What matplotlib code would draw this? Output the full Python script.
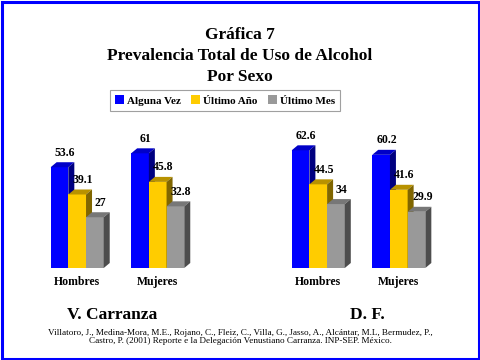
import matplotlib
matplotlib.use("Agg")
import matplotlib.pyplot as plt
from matplotlib.patches import Polygon, Rectangle, Patch

# ── Data ──────────────────────────────────────────────────────────────────────
regions    = ["V. Carranza", "D. F."]
sexes      = ["Hombres", "Mujeres"]
series     = ["Alguna Vez", "Último Año", "Último Mes"]
alguna_vez = [53.6, 61, 62.6, 60.2]   # VC-H, VC-M, DF-H, DF-M
ultimo_ano = [39.1, 45.8, 44.5, 41.6]
ultimo_mes = [27, 32.8, 34, 29.9]

title_lines = ["Gráfica 7", "Prevalencia Total de Uso de Alcohol", "Por Sexo"]
citation = ("Villatoro, J., Medina-Mora, M.E., Rojano, C., Fleiz, C., Villa, G., Jasso, A., "
            "Alcántar, M.L, Bermudez, P.,\n"
            "Castro, P. (2001) Reporte e la Delegación Venustiano Carranza. INP-SEP. México.")

# ── Style ─────────────────────────────────────────────────────────────────────
FONT = "Liberation Serif"
front = ["#0000FF", "#FFCC00", "#999999"]
top   = ["#0000C8", "#B89200", "#777777"]
side  = ["#000080", "#806600", "#4D4D4D"]

W, H = 480, 360
fig = plt.figure(figsize=(4.8, 3.6), dpi=100)
fig.patch.set_facecolor("white")

# axes laid out in pixels: baseline at y=268 from top
ax = fig.add_axes([40 / W, 92 / H, 400 / W, 138 / H])
PX_X = 17.7          # px per bar width
PX_Y = 1.88          # px per percentage point
ax.set_xlim(0, 400 / PX_X)
ax.set_ylim(0, 138 / PX_Y)
ax.axis("off")

DX = 6 / PX_X
DY = 5 / PX_Y
region_start = [0.6, 14.22]
group_gap = 4.55

values = [alguna_vez, ultimo_ano, ultimo_mes]
for r in range(len(regions)):
    for s in range(len(sexes)):
        g = r * len(sexes) + s
        x0 = region_start[r] + s * group_gap
        for k in range(len(series)):
            v = values[k][g]
            x = x0 + k
            ax.add_patch(Polygon([(x, 0), (x + 1, 0), (x + 1, v), (x, v)],
                                 closed=True, fc=front[k], ec="none"))
            ax.add_patch(Polygon([(x, v), (x + 1, v), (x + 1 + DX, v + DY), (x + DX, v + DY)],
                                 closed=True, fc=top[k], ec="none"))
            ax.add_patch(Polygon([(x + 1, 0), (x + 1 + DX, DY), (x + 1 + DX, v + DY), (x + 1, v)],
                                 closed=True, fc=side[k], ec="none"))
            ax.annotate(f"{v:g}", xy=(x + 0.5 + DX / 2, v + DY), xytext=(2, 2.5),
                        textcoords="offset points", ha="center", va="bottom",
                        fontsize=8.5, fontweight="bold", family=FONT, annotation_clip=False)
        ax.annotate(sexes[s], xy=(x0 + 1.5, 0), xytext=(0, -10),
                    textcoords="offset points", ha="center", va="center",
                    fontsize=8.5, fontweight="bold", family=FONT, annotation_clip=False)

# ── Texts ─────────────────────────────────────────────────────────────────────
for i, line in enumerate(title_lines):
    fig.text(240 / W, 1 - (35 + 21 * i) / H, line, ha="center", va="center",
             fontsize=12.5, fontweight="bold", family=FONT)

fig.text(112 / W, 1 - 315 / H, regions[0], ha="center", va="center",
         fontsize=12.5, fontweight="bold", family=FONT)
fig.text(367 / W, 1 - 315 / H, regions[1], ha="center", va="center",
         fontsize=12.5, fontweight="bold", family=FONT)

fig.text(240 / W, 1 - 337 / H, citation, ha="center", va="center",
         fontsize=6.6, family=FONT, linespacing=1.15)

# ── Legend ────────────────────────────────────────────────────────────────────
handles = [Patch(fc=front[k], ec="none", label=series[k]) for k in range(len(series))]
leg = fig.legend(handles=handles, ncol=3, loc="center",
                 bbox_to_anchor=(225 / W, 1 - 100.5 / H),
                 prop={"family": FONT, "weight": "bold", "size": 8},
                 frameon=True, fancybox=False, edgecolor="#888888",
                 handlelength=0.8, handleheight=0.8, handletextpad=0.3,
                 columnspacing=0.9, borderpad=0.45, borderaxespad=0)
leg.get_frame().set_linewidth(0.8)

# ── Blue page border ──────────────────────────────────────────────────────────
fig.patches.append(Rectangle((1.5 / W, 1.5 / H), 1 - 3 / W, 1 - 3 / H,
                             transform=fig.transFigure, fill=False,
                             ec="#0000FF", lw=2.2, zorder=10))

fig.savefig("out.png", dpi=100)
